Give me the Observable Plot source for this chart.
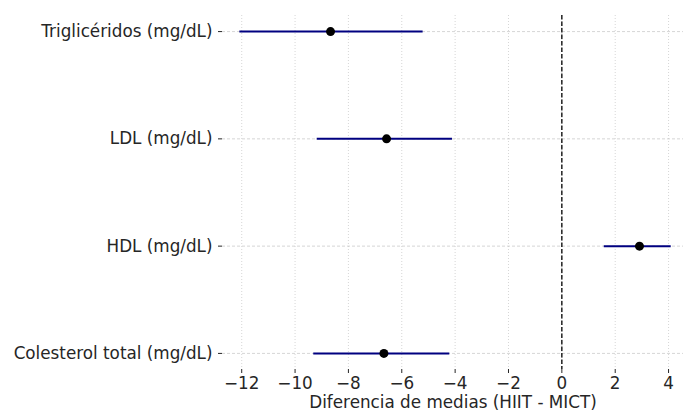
<!DOCTYPE html>
<html>
<head>
<meta charset="utf-8">
<script src="https://cdn.jsdelivr.net/npm/d3@7"></script>
<script src="https://cdn.jsdelivr.net/npm/@observablehq/plot@0.6"></script>
<style>
  html, body { margin: 0; padding: 0; background: #fff; }
  #chart svg { display: block; }
</style>
</head>
<body>
<div id="chart"></div>
<script>
const categories = ["Triglicéridos (mg/dL)", "LDL (mg/dL)", "HDL (mg/dL)", "Colesterol total (mg/dL)"];
const estimates = [-8.67, -6.57, 2.91, -6.67];
const lower = [-12.07, -9.17, 1.59, -9.30];
const upper = [-5.20, -4.10, 4.10, -4.20];
const xTicks = [-12, -10, -8, -6, -4, -2, 0, 2, 4];
const xLabel = "Diferencia de medias (HIIT - MICT)";

const data = categories.map((c, i) => ({cat: c, est: estimates[i], lo: lower[i], hi: upper[i]}));
const fmt = d => d < 0 ? "\u2212" + Math.abs(d) : String(d);

const chart = Plot.plot({
  width: 683,
  height: 412,
  marginLeft: 222,
  marginRight: 0,
  marginTop: 15,
  marginBottom: 43,
  style: {fontFamily: "'DejaVu Sans', sans-serif", fontSize: "16.8px", color: "#262626", background: "#fff"},
  x: {domain: [-12.72, 4.56], ticks: xTicks, tickFormat: fmt, tickSize: 4, tickPadding: 4, label: null},
  y: {domain: categories, padding: 0.15, round: false, tickSize: 4, tickPadding: 6, label: null},
  marks: [
    Plot.ruleX(xTicks, {stroke: "#cccccc", strokeWidth: 0.8, strokeDasharray: "1,2"}),
    Plot.ruleY(categories, {y: d => d, stroke: "#cccccc", strokeWidth: 0.8, strokeDasharray: "3,2"}),
    Plot.ruleX([0], {stroke: "#000", strokeWidth: 1.3, strokeDasharray: "4.5,2"}),
    Plot.ruleY(data, {y: "cat", x1: "lo", x2: "hi", stroke: "#000080", strokeWidth: 2}),
    Plot.dot(data, {y: "cat", x: "est", r: 4.5, fill: "#000", stroke: null}),
    Plot.text([xLabel], {frameAnchor: "bottom", text: d => d, dy: 33, lineAnchor: "middle", fill: "#262626", fontSize: 16.8})
  ]
});
chart.querySelectorAll("[aria-label='x-axis tick'], [aria-label='y-axis tick']").forEach(g => g.setAttribute("stroke", "#262626"));
document.getElementById("chart").appendChild(chart);
</script>
</body>
</html>
